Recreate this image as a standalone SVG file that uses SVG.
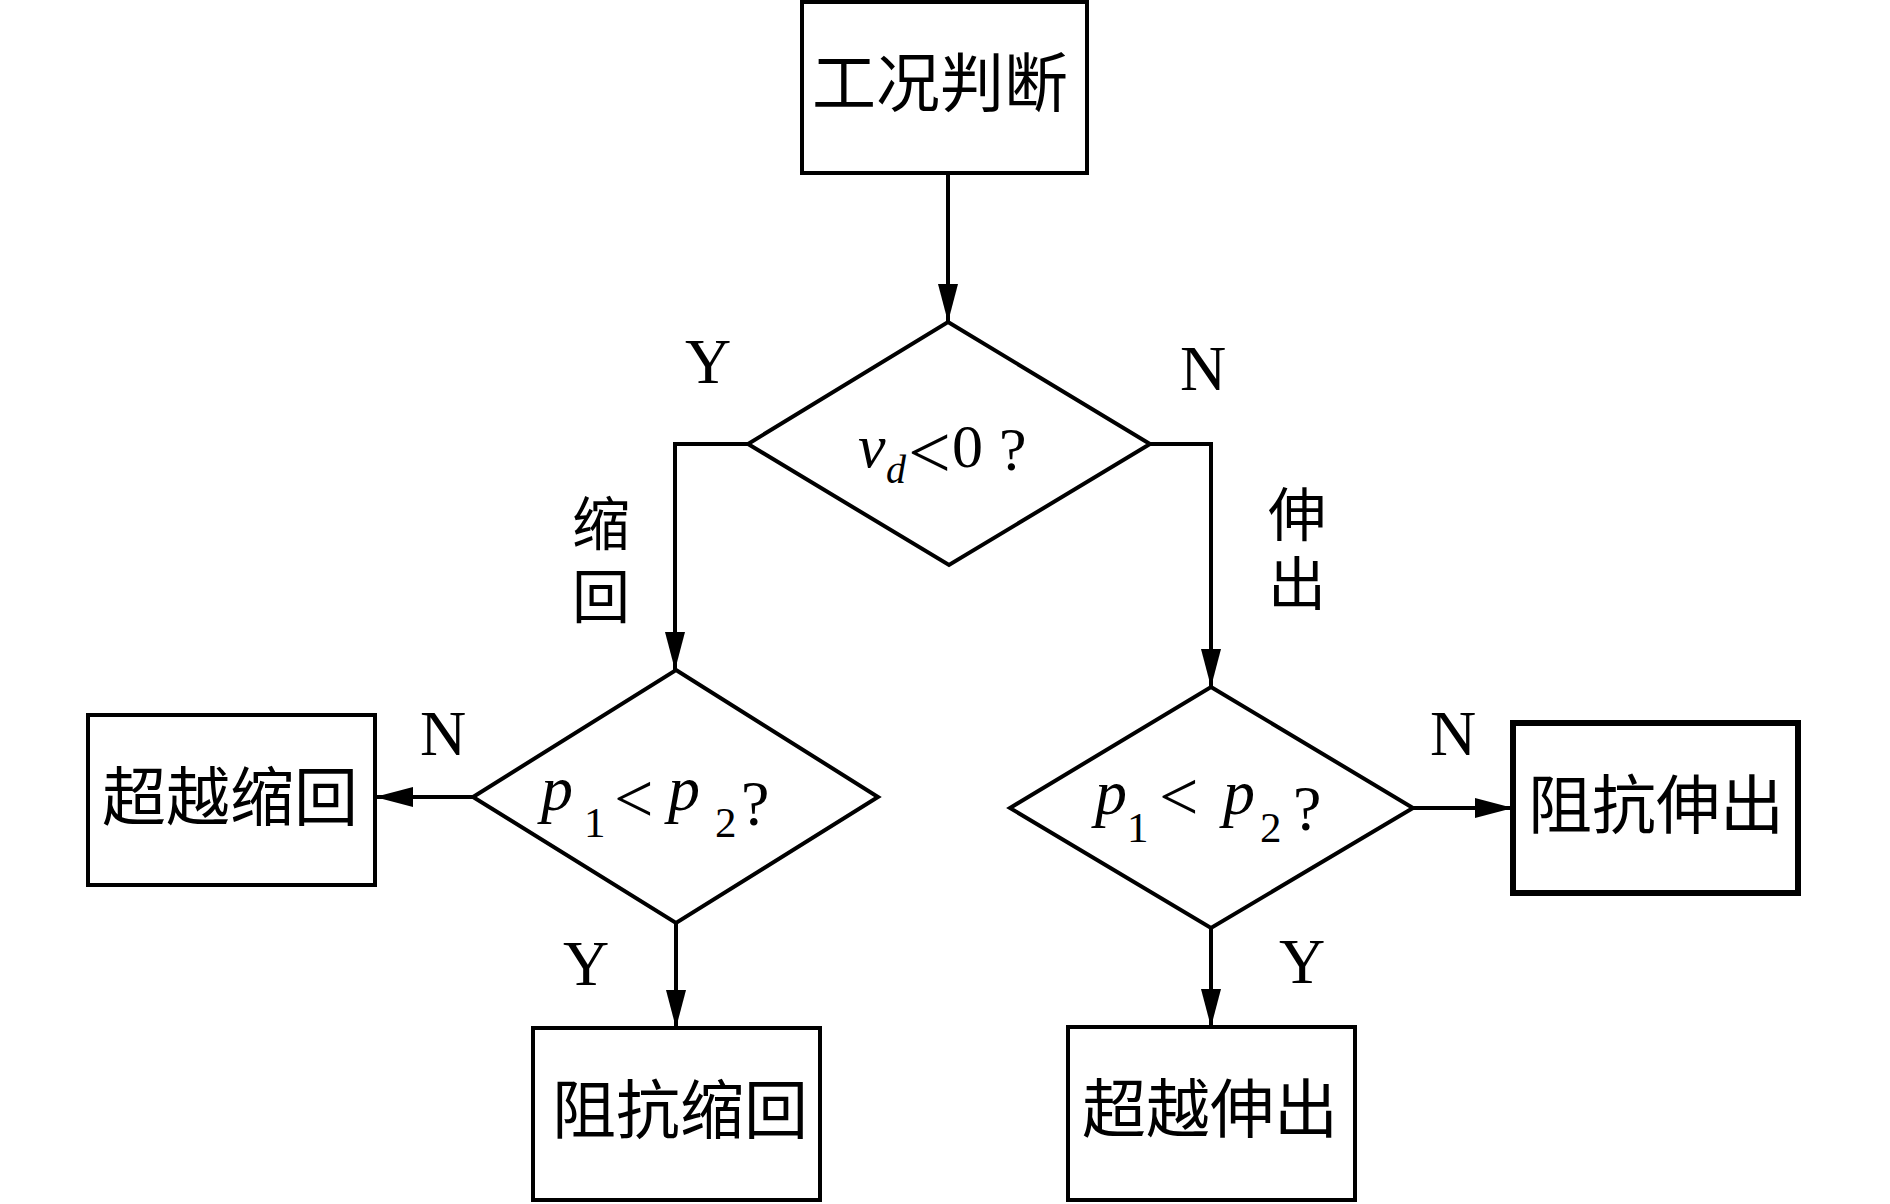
<svg xmlns="http://www.w3.org/2000/svg" width="1890" height="1204" viewBox="0 0 1890 1204">
<style>
.box{fill:#fff;stroke:#000;stroke-width:4}
.thick{stroke-width:6}
.cjk{font-family:"Noto Sans CJK SC","Noto Sans CJK JP",sans-serif;font-size:62px;fill:#000;text-anchor:middle}
.vert{font-family:"Noto Sans CJK SC","Noto Sans CJK JP",sans-serif;font-size:58px;fill:#000;writing-mode:vertical-rl;text-anchor:start}
.lbl{font-family:"Liberation Serif","Times New Roman",serif;font-size:64px;fill:#000}
.m{font-family:"Liberation Serif","Times New Roman",serif;fill:#000}
.it{font-style:italic}
.edge{fill:none;stroke:#000;stroke-width:4}
</style>
<defs>
<marker id="arr" markerUnits="userSpaceOnUse" markerWidth="38" markerHeight="20" refX="38" refY="10" orient="auto">
<path d="M0,0 L38,10 L0,20 Z" fill="#000"/>
</marker>
</defs>
<rect width="1890" height="1204" fill="#fff"/>
<g id="connectors">
<path class="edge" d="M948,173 V322" marker-end="url(#arr)"/>
<path class="edge" d="M748,444 H675 V670" marker-end="url(#arr)"/>
<path class="edge" d="M1150,444 H1211 V687" marker-end="url(#arr)"/>
<path class="edge" d="M473,797 H375" marker-end="url(#arr)"/>
<path class="edge" d="M676,923 V1028" marker-end="url(#arr)"/>
<path class="edge" d="M1413,808 H1513" marker-end="url(#arr)"/>
<path class="edge" d="M1211,928 V1027" marker-end="url(#arr)"/>
<text class="lbl" x="685" y="383">Y</text>
<text class="lbl" x="1180" y="390">N</text>
<text class="vert" x="601" y="494" letter-spacing="15">缩回</text>
<text class="vert" x="1297" y="485" letter-spacing="11">伸出</text>
<text class="lbl" x="420" y="755">N</text>
<text class="lbl" x="1430" y="755">N</text>
<text class="lbl" x="563" y="985">Y</text>
<text class="lbl" x="1279" y="983">Y</text>
</g>
<g id="start">
<rect class="box" x="802" y="2" width="285" height="171"/>
<text class="cjk" x="940" y="106" style="font-size:64px">工况判断</text>
</g>
<g id="decision-vd">
<polygon class="box" points="948,322 1150,444 949,565 748,444"/>
<text class="m it" x="858" y="467" font-size="62">v</text>
<text class="m it" x="886" y="483" font-size="40">d</text>
<text class="m" x="908" y="478" font-size="76">&lt;</text>
<text class="m" x="952" y="467" font-size="62">0</text>
<text class="m" x="999" y="470" font-size="62">?</text>
</g>
<g id="decision-left">
<polygon class="box" points="676,670 878,797 676,923 473,797"/>
<text class="m it" x="541" y="810" font-size="64">p</text>
<text class="m" x="584" y="837" font-size="43">1</text>
<text class="m" x="614" y="822" font-size="70">&lt;</text>
<text class="m it" x="668" y="810" font-size="64">p</text>
<text class="m" x="715" y="837" font-size="43">2</text>
<text class="m" x="741" y="825" font-size="64">?</text>
</g>
<g id="decision-right">
<polygon class="box" points="1211,687 1413,808 1211,928 1010,808"/>
<text class="m it" x="1095" y="814" font-size="64">p</text>
<text class="m" x="1127" y="842" font-size="43">1</text>
<text class="m" x="1159" y="820" font-size="70">&lt;</text>
<text class="m it" x="1223" y="814" font-size="64">p</text>
<text class="m" x="1260" y="842" font-size="43">2</text>
<text class="m" x="1293" y="830" font-size="64">?</text>
</g>
<g id="over-retract">
<rect class="box" x="88" y="715" width="287" height="170"/>
<text class="cjk" x="230" y="820" style="font-size:64px">超越缩回</text>
</g>
<g id="resist-extend">
<rect class="box thick" x="1513" y="723" width="285" height="170"/>
<text class="cjk" x="1656" y="828" style="font-size:64px">阻抗伸出</text>
</g>
<g id="resist-retract">
<rect class="box" x="533" y="1028" width="287" height="172"/>
<text class="cjk" x="680" y="1133" style="font-size:64px">阻抗缩回</text>
</g>
<g id="over-extend">
<rect class="box" x="1068" y="1027" width="287" height="173"/>
<text class="cjk" x="1210" y="1132" style="font-size:64px">超越伸出</text>
</g>
</svg>
